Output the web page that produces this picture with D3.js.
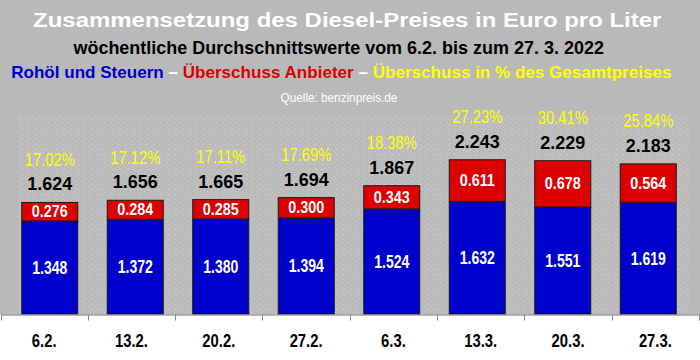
<!DOCTYPE html>
<html><head><meta charset="utf-8">
<script src="https://cdn.jsdelivr.net/npm/d3@7"></script>
<style>
html,body{margin:0;padding:0;background:#b9b9b9;}
svg{display:block;font-family:"Liberation Sans",Arial,sans-serif;}
</style></head>
<body>
<svg id="c" width="700" height="360"></svg>
<script>
const weeks = ["6.2.","13.2.","20.2.","27.2.","6.3.","13.3.","20.3.","27.3."];
const rohoel = [1.348,1.372,1.380,1.394,1.524,1.632,1.551,1.619];
const ueberschuss = [0.276,0.284,0.285,0.300,0.343,0.611,0.678,0.564];
const gesamt = [1.624,1.656,1.665,1.694,1.867,2.243,2.229,2.183];
const anteil = ["17.02%","17.12%","17.11%","17.69%","18.38%","27.23%","30.41%","25.84%"];

const rows = weeks.map((w,i)=>({week:w, rohoel:rohoel[i], ueberschuss:ueberschuss[i], gesamt:gesamt[i], anteil:anteil[i]}));
const stack = d3.stack().keys(["rohoel","ueberschuss"])(rows);
const colors = {rohoel:"#0000cc", ueberschuss:"#dd0000"};

const svg = d3.select("#c");
const W = 700, H = 360;

svg.append("rect").attr("width",W).attr("height",H).attr("fill","#b9b9b9");

const defs = svg.append("defs");
const pat = defs.append("pattern").attr("id","speck").attr("width",7).attr("height",5).attr("patternUnits","userSpaceOnUse");
pat.append("rect").attr("width",7).attr("height",5).attr("fill","#b9b9b9");
[[1,0],[4,1],[2,3],[6,2],[0,4],[5,4]].forEach(([x,y])=>pat.append("rect").attr("x",x).attr("y",y).attr("width",1).attr("height",1).attr("fill","#cdcdcd"));

const y = d3.scaleLinear().domain([0, 2.87]).range([314, 116]);
const xBar = d3.scaleBand().domain(weeks).range([7, 691]).paddingInner(1/3).paddingOuter(1/6);
const xAxis = d3.scaleBand().domain(weeks).range([0.5, 699]);

svg.append("rect").attr("x",18).attr("y",116).attr("width",672).attr("height",198).attr("fill","url(#speck)");
svg.append("rect").attr("x",0).attr("y",314.5).attr("width",W).attr("height",H-314.5).attr("fill","#ffffff");

const layer = svg.append("g").selectAll("g").data(stack).join("g").attr("fill",d=>colors[d.key]);
layer.selectAll("rect").data(d=>d).join("rect")
  .attr("x",d=>xBar(d.data.week)+0.5)
  .attr("y",d=>y(d[1])+0.5)
  .attr("width",xBar.bandwidth()-1)
  .attr("height",d=>y(d[0])-y(d[1])-0.5)
  .attr("stroke","#1a1a1a").attr("stroke-width",1);

const axis = d3.axisBottom(xAxis).tickSize(0).tickFormat("");
const ag = svg.append("g").attr("transform","translate(0,314.5)").call(axis);
ag.select(".domain").attr("stroke","#777");
ag.selectAll(".tick").remove();
const bounds = weeks.map(w=>xAxis(w)).concat([xAxis.range()[1]]);
ag.selectAll("line.tk").data(bounds).join("line").attr("class","tk")
  .attr("x1",d=>Math.round(d)+0.5).attr("x2",d=>Math.round(d)+0.5).attr("y1",0).attr("y2",6)
  .attr("stroke","#888");

function label(g, x, yy, txt, size, weight, fill, sx){
  g.append("text").attr("transform",`translate(${x},${yy}) scale(${sx},1)`)
   .attr("text-anchor","middle").attr("font-size",size).attr("font-weight",weight)
   .attr("fill",fill).text(txt);
}
const fmt = d3.format(".3f");
const lg = svg.append("g");
rows.forEach((r,i)=>{
  const cx = xBar(r.week)+xBar.bandwidth()/2;
  const cBlue = (y(0)+y(r.rohoel))/2;
  const cRed = (y(r.rohoel)+y(r.rohoel+r.ueberschuss))/2;
  label(lg, cx, cBlue+6.5, fmt(r.rohoel), 18.5, "bold", "#ffffff", 0.76);
  label(lg, cx, cRed+5.8, fmt(r.ueberschuss), 16, "bold", "#ffffff", 0.9);
  const top = y(r.gesamt);
  label(lg, cx, top-11.5, fmt(r.gesamt), 18.5, "bold", "#000000", 0.97);
  label(lg, cx, top-36, r.anteil, 18, "normal", "#ffff00", 0.82);
  label(lg, xAxis(r.week)+xAxis.bandwidth()/2, 346.5, r.week, 19, "bold", "#000000", 0.78);
});

function fit(sel, cx, target){
  const w = sel.node().getComputedTextLength();
  sel.attr("transform",`translate(${cx},0) scale(${target/w},1)`);
}
const t1 = svg.append("text").attr("x",0).attr("y",27.5).attr("text-anchor","middle")
  .attr("font-size",21).attr("font-weight","bold").attr("fill","#ffffff")
  .text("Zusammensetzung des Diesel-Preises in Euro pro Liter");
fit(t1, 347.2, 629);
const t2 = svg.append("text").attr("x",0).attr("y",54.3).attr("text-anchor","middle")
  .attr("font-size",17.5).attr("font-weight","bold").attr("fill","#000000")
  .text("wöchentliche Durchschnittswerte vom 6.2. bis zum 27. 3. 2022");
fit(t2, 338.7, 531);
const t3 = svg.append("text").attr("x",0).attr("y",78.3).attr("text-anchor","middle")
  .attr("font-size",16).attr("font-weight","bold");
t3.append("tspan").attr("fill","#0000cc").text("Rohöl und Steuern");
t3.append("tspan").attr("fill","#ffffff").text(" – ");
t3.append("tspan").attr("fill","#dd0000").text("Überschuss Anbieter");
t3.append("tspan").attr("fill","#ffffff").text(" – ");
t3.append("tspan").attr("fill","#ffff00").text("Überschuss in % des Gesamtpreises");
fit(t3, 341.3, 661);
const t4 = svg.append("text").attr("x",0).attr("y",101.7).attr("text-anchor","middle")
  .attr("font-size",12).attr("fill","#ffffff").text("Quelle: benzinpreis.de");
fit(t4, 339, 117);
</script>
</body></html>
